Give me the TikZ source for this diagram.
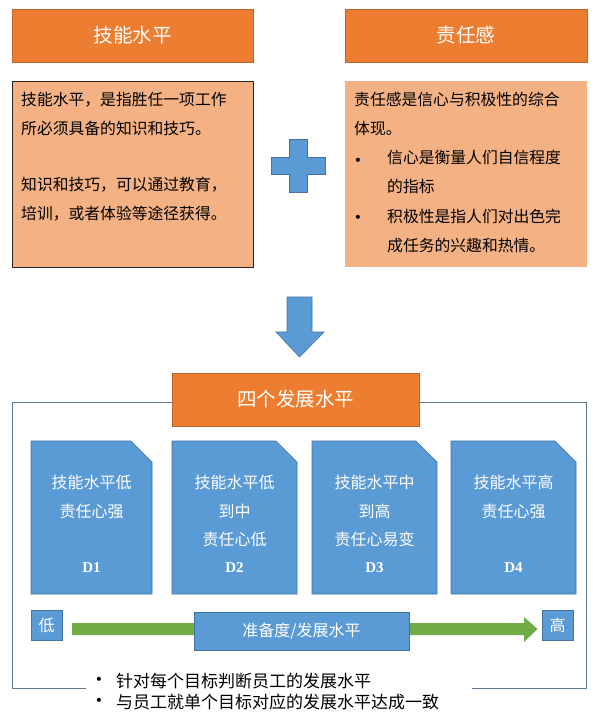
\documentclass[tikz,border=0pt]{standalone}
\usepackage{fontspec}
\setmainfont{Noto Sans CJK SC}
\setsansfont{Noto Sans CJK SC}
\newfontfamily\bulfont{DejaVu Sans}
\newfontfamily\dfont{Liberation Serif}
\usetikzlibrary{calc}
\definecolor{orangeA}{HTML}{ED7D31}
\definecolor{orangeL}{HTML}{F4B183}
\definecolor{blueA}{HTML}{5B9BD5}
\definecolor{blueD}{HTML}{41719C}
\definecolor{greenA}{HTML}{70AD47}
\definecolor{frameC}{HTML}{5A7A98}
\tikzset{
  hdr/.style={fill=orangeA, draw=orangeA!80!black, line width=0.6pt, text=white, font=\fontsize{19.5}{22}\selectfont},
  bodytxt/.style={anchor=north west, align=left, inner sep=0pt, font=\fontsize{15.8}{29.3}\selectfont},
  cardtxt/.style={text=white, align=center, font=\fontsize{16}{28.5}\selectfont},
  bluebox/.style={fill=blueA, draw=blueD, line width=0.6pt, text=white},
  bul/.style={font=\bulfont\fontsize{14}{14}\selectfont, inner sep=0pt},
}
\begin{document}
\begin{tikzpicture}[x=1pt,y=-1pt]
\useasboundingbox (0,0) rectangle (599,717);
\fill[white] (0,0) rectangle (599,717);
% headers
\node[hdr, minimum width=241pt, minimum height=53pt] (h1) at (132.5,35.5) {技能水平};
\node[hdr, minimum width=242pt, minimum height=53pt] (h2) at (466,35.5) {责任感};
% text boxes
\draw[fill=orangeL, draw=black!85, line width=0.7pt] (12,81) rectangle (253,267);
\node[bodytxt] (t1) at (21,92) {技能水平，是指胜任一项工作\\所必须具备的知识和技巧。\\[26pt]知识和技巧，可以通过教育，\\培训，或者体验等途径获得。};
\fill[orangeL] (345,81) rectangle (587,267);
\node[bodytxt] (t2) at (354,92) {责任感是信心与积极性的综合\\体现。};
\node[bodytxt] (t3) at (387,150) {信心是衡量人们自信程度\\的指标\\积极性是指人们对出色完\\成任务的兴趣和热情。};
\node[bul] (b1) at (358,162) {•};
\node[bul] (b2) at (358,219) {•};
% plus
\draw[fill=blueA, draw=blueD, line width=0.6pt] (289,139) -- (307,139) -- (307,157) -- (325,157) -- (325,174) -- (307,174) -- (307,192) -- (289,192) -- (289,174) -- (271,174) -- (271,157) -- (289,157) -- cycle;
% down arrow
\draw[fill=blueA, draw=blueD, line width=0.6pt] (287,297) -- (312,297) -- (312,332) -- (324,332) -- (299.5,357) -- (276,332) -- (287,332) -- cycle;
% frame
\coordinate (f1) at (172,402);
\coordinate (f2) at (419,402);
\coordinate (f3) at (86,688);
\coordinate (f4) at (472,688);
\draw[frameC, line width=0.8pt] (f1) -- (12,402) -- (12,688) -- (f3);
\draw[frameC, line width=0.8pt] (f2) -- (586,402) -- (586,688) -- (f4);
\node[hdr, minimum width=247pt, minimum height=53pt] (h3) at (295.5,399.5) {四个发展水平};
% cards
\foreach \xa/\xb/\nm in {31/152/c1,172/297/c2,312/437/c3,451/576/c4}{
  \draw[bluebox] (\xa,441) -- ({\xb-21},441) -- (\xb,462) -- (\xb,594) -- (\xa,594) -- cycle;
}
\node[cardtxt] (d1) at (91.5,497) {技能水平低\\责任心强};
\node[cardtxt] (d2) at (234.5,511) {技能水平低\\到中\\责任心低};
\node[cardtxt] (d3) at (374.5,511) {技能水平中\\到高\\责任心易变};
\node[cardtxt] (d4) at (513.5,497) {技能水平高\\责任心强};
\foreach \x/\l in {91.5/D1,234.5/D2,374.5/D3,513.5/D4}{
  \node[text=white, font=\dfont\fontsize{15}{15}\selectfont\bfseries] at (\x,568) {\l};
}
% scale
\node[bluebox, minimum width=31pt, minimum height=30pt, inner sep=0pt, font=\fontsize{16}{16}\selectfont] (lo) at (46.5,625) {低};
\node[bluebox, minimum width=31pt, minimum height=30pt, inner sep=0pt, font=\fontsize{16}{16}\selectfont] (hi) at (557.5,625) {高};
\fill[greenA] (72,623) -- (524,623) -- (524,617) -- (537.5,629) -- (524,642) -- (524,635) -- (72,635) -- cycle;
\node[bluebox, minimum width=215pt, minimum height=38pt, inner sep=0pt, font=\fontsize{16}{16}\selectfont] (mid) at (301.5,631) {准备度/发展水平};
% bottom bullets
\node[bul] (bb1) at (99,681) {•};
\node[bul] (bb2) at (99,702) {•};
\node[anchor=west, inner sep=0pt, font=\fontsize{17}{21}\selectfont, align=left] (bl) at (116,691.5) {针对每个目标判断员工的发展水平\\与员工就单个目标对应的发展水平达成一致};
\end{tikzpicture}
\end{document}
